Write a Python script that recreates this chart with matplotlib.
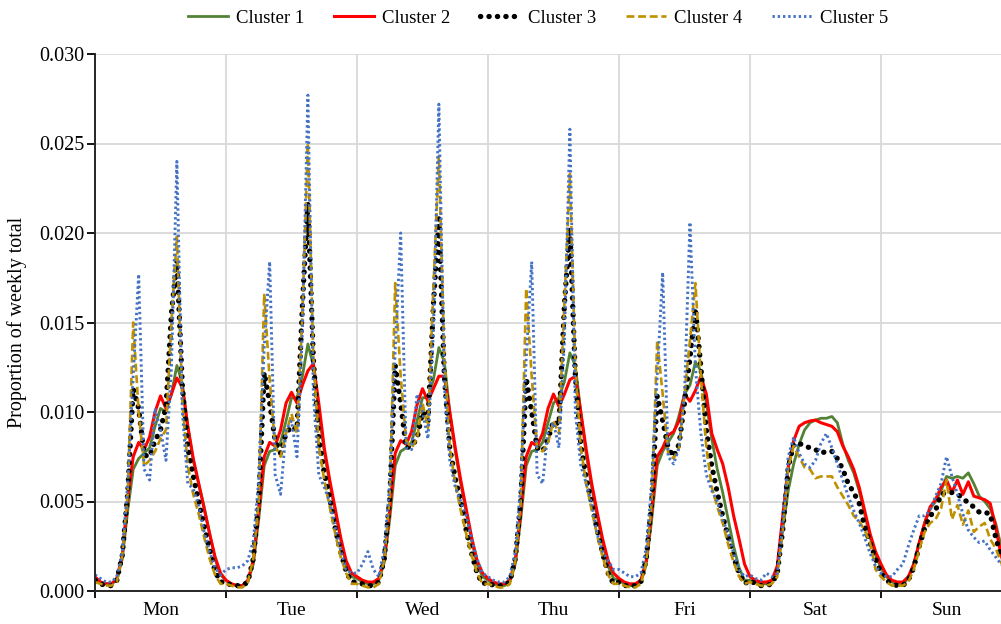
import matplotlib
matplotlib.use("Agg")
import matplotlib.pyplot as plt
import numpy as np

# hourly profiles, values in units of 1/1000 of the weekly total
days = ["Mon", "Tue", "Wed", "Thu", "Fri", "Sat", "Sun"]
labels = ["Cluster 1", "Cluster 2", "Cluster 3", "Cluster 4", "Cluster 5"]

cluster1 = [
    0.7, 0.5, 0.4, 0.4, 0.6, 1.8, 4.5, 6.8, 7.4, 7.7, 8.0, 9.2, 10.2, 10.0, 11.0, 12.6, 11.6, 9.2, 7.3, 6.0, 4.7, 3.2, 1.8, 0.9,
    0.6, 0.4, 0.3, 0.3, 0.5, 1.5, 4.0, 7.0, 7.8, 7.9, 8.3, 9.5, 10.8, 10.8, 12.0, 13.8, 12.6, 10.0, 7.8, 6.0, 4.5, 2.9, 1.5, 0.8,
    0.7, 0.5, 0.4, 0.4, 0.6, 1.6, 4.0, 7.0, 7.8, 8.0, 8.3, 9.5, 10.8, 10.8, 11.8, 13.6, 12.8, 10.0, 7.8, 6.0, 4.4, 2.8, 1.5, 0.8,
    0.6, 0.4, 0.3, 0.3, 0.5, 1.5, 4.0, 7.0, 7.8, 7.9, 8.3, 9.4, 10.5, 10.8, 11.7, 13.3, 12.6, 10.0, 7.6, 5.8, 4.2, 2.7, 1.4, 0.7,
    0.6, 0.4, 0.3, 0.3, 0.5, 1.5, 4.0, 7.0, 7.8, 8.3, 8.8, 9.8, 11.0, 11.5, 12.8, 12.3, 10.5, 8.5, 6.8, 5.5, 4.0, 2.5, 1.3, 0.6,
    0.6, 0.5, 0.4, 0.4, 0.6, 1.2, 3.4, 5.6, 7.1, 8.2, 9.0, 9.4, 9.55, 9.65, 9.65, 9.75, 9.4, 8.2, 7.3, 6.6, 5.6, 4.3, 3.0, 2.0,
    1.3, 0.8, 0.5, 0.4, 0.4, 0.7, 1.5, 2.7, 3.8, 4.6, 5.0, 5.6, 6.4, 6.3, 6.4, 6.3, 6.6, 6.0, 5.3, 5.0, 4.6, 3.8, 2.5, 1.4,
]
cluster2 = [
    0.8, 0.5, 0.4, 0.4, 0.7, 2.0, 5.2, 7.5, 8.3, 7.9, 8.6, 10.0, 10.9, 10.2, 11.0, 11.9, 11.4, 9.2, 7.4, 6.0, 4.6, 3.2, 1.9, 1.0,
    0.6, 0.4, 0.3, 0.3, 0.6, 1.7, 4.5, 7.5, 8.3, 8.1, 9.0, 10.5, 11.1, 10.5, 11.5, 12.3, 12.7, 10.5, 8.0, 6.2, 4.6, 3.0, 1.7, 1.0,
    0.8, 0.6, 0.5, 0.5, 0.7, 1.8, 4.5, 7.7, 8.4, 8.2, 8.9, 10.4, 11.3, 10.6, 11.3, 12.0, 12.0, 10.0, 8.0, 6.2, 4.6, 3.0, 1.7, 1.0,
    0.7, 0.5, 0.4, 0.4, 0.6, 1.7, 4.5, 7.5, 8.3, 8.1, 8.8, 10.2, 11.0, 10.3, 11.0, 11.8, 12.0, 10.0, 7.9, 6.0, 4.4, 2.9, 1.7, 1.0,
    0.7, 0.5, 0.4, 0.4, 0.6, 1.7, 4.5, 7.5, 8.0, 8.7, 8.9, 9.5, 11.0, 10.6, 11.2, 12.0, 11.0, 8.8, 7.9, 7.1, 5.8, 4.2, 2.9, 1.5,
    0.8, 0.6, 0.5, 0.5, 0.6, 1.4, 4.2, 6.9, 8.4, 9.2, 9.4, 9.5, 9.55, 9.4, 9.3, 9.2, 8.9, 8.1, 7.5, 6.8, 5.8, 4.5, 3.2, 2.2,
    1.5, 0.9, 0.6, 0.5, 0.5, 0.8, 1.5, 2.7, 3.8, 4.7, 5.1, 5.8, 6.2, 5.5, 6.2, 5.4, 6.1, 5.3, 5.2, 5.1, 4.9, 3.6, 2.0, 1.0,
]
cluster3 = [
    0.6, 0.4, 0.3, 0.3, 0.6, 2.0, 5.5, 11.3, 10.2, 7.6, 7.5, 8.4, 9.0, 10.3, 15.5, 18.5, 11.5, 8.0, 6.4, 5.0, 3.6, 2.3, 1.1, 0.5,
    0.5, 0.3, 0.3, 0.3, 0.5, 1.8, 5.0, 12.2, 10.5, 8.4, 7.7, 8.8, 9.2, 9.0, 16.0, 21.7, 13.0, 8.5, 6.6, 5.2, 3.5, 2.2, 1.1, 0.5,
    0.5, 0.4, 0.3, 0.3, 0.5, 1.8, 5.2, 12.6, 10.5, 8.0, 8.1, 8.5, 10.0, 9.5, 16.0, 20.8, 12.0, 8.0, 6.3, 5.0, 3.4, 2.1, 1.0, 0.4,
    0.5, 0.3, 0.3, 0.3, 0.5, 1.8, 5.0, 11.9, 10.0, 8.0, 7.8, 8.5, 9.5, 9.3, 16.0, 20.3, 12.0, 8.2, 6.3, 4.9, 3.4, 2.1, 1.0, 0.4,
    0.5, 0.3, 0.3, 0.3, 0.5, 1.8, 5.0, 10.9, 9.5, 8.0, 7.5, 8.2, 10.5, 13.0, 15.8, 12.5, 9.0, 7.0, 5.5, 4.2, 3.0, 1.9, 1.0, 0.4,
    0.6, 0.4, 0.3, 0.3, 0.4, 1.0, 3.4, 6.9, 8.2, 8.25, 8.1, 8.0, 7.9, 7.7, 7.8, 7.8, 7.4, 6.8, 6.0, 5.5, 4.9, 3.6, 2.7, 1.8,
    1.0, 0.6, 0.4, 0.3, 0.3, 0.6, 1.3, 2.5, 3.5, 4.2, 4.5, 5.4, 5.5, 5.5, 5.4, 5.2, 4.9, 4.7, 4.4, 4.4, 4.3, 3.0, 1.9, 1.0,
]
cluster4 = [
    0.5, 0.4, 0.3, 0.3, 0.5, 2.0, 5.5, 15.0, 10.0, 7.0, 7.3, 7.8, 8.5, 9.0, 15.0, 19.8, 10.5, 7.0, 5.4, 4.3, 3.0, 1.8, 0.9, 0.4,
    0.4, 0.3, 0.2, 0.2, 0.5, 1.8, 5.0, 16.6, 11.8, 8.1, 7.5, 8.8, 9.9, 8.8, 15.5, 25.0, 13.1, 8.1, 6.2, 4.7, 3.2, 1.9, 1.0, 0.4,
    0.4, 0.3, 0.2, 0.2, 0.4, 1.8, 5.2, 17.2, 12.0, 8.4, 8.0, 8.5, 10.5, 9.1, 17.0, 24.3, 13.0, 8.0, 6.0, 4.5, 3.2, 2.0, 1.0, 0.4,
    0.4, 0.3, 0.2, 0.2, 0.4, 1.7, 5.0, 16.9, 12.0, 8.0, 7.8, 8.3, 9.5, 8.8, 16.0, 23.3, 12.5, 8.0, 6.0, 4.5, 3.1, 1.9, 0.9, 0.4,
    0.4, 0.3, 0.2, 0.2, 0.4, 1.6, 5.0, 14.0, 11.0, 7.7, 7.4, 8.0, 11.0, 14.0, 17.2, 12.0, 8.0, 5.8, 4.7, 3.8, 2.6, 1.6, 0.8, 0.4,
    0.5, 0.4, 0.3, 0.3, 0.4, 0.8, 3.4, 6.9, 8.1, 7.5, 6.9, 6.8, 6.3, 6.4, 6.4, 6.4, 5.8, 5.3, 4.8, 4.2, 3.9, 3.4, 2.7, 1.2,
    0.8, 0.5, 0.3, 0.3, 0.3, 0.5, 1.2, 2.3, 3.3, 3.8, 4.0, 4.6, 6.2, 4.0, 4.8, 3.7, 4.5, 3.3, 3.6, 3.8, 2.9, 2.4, 1.6, 0.9,
]
cluster5 = [
    0.9, 0.7, 0.5, 0.5, 0.8, 2.2, 6.0, 12.0, 17.7, 6.8, 6.2, 10.2, 9.0, 7.3, 12.5, 24.0, 10.0, 6.0, 5.7, 4.8, 3.3, 2.2, 1.3, 0.9,
    1.2, 1.3, 1.3, 1.4, 1.7, 2.8, 6.2, 13.6, 18.4, 6.5, 5.4, 9.0, 9.5, 7.5, 14.5, 27.7, 11.0, 6.5, 5.8, 5.0, 3.6, 2.3, 1.2, 1.0,
    1.0, 1.5, 2.2, 1.2, 0.8, 2.4, 6.0, 13.5, 20.0, 8.0, 7.9, 11.0, 10.0, 8.5, 14.5, 27.2, 11.5, 7.3, 5.8, 5.0, 4.2, 2.9, 1.8, 1.0,
    0.8, 0.6, 0.5, 0.5, 0.8, 2.2, 6.0, 13.0, 18.4, 6.5, 6.0, 9.0, 9.4, 8.0, 14.0, 25.8, 10.0, 7.0, 6.0, 4.9, 3.2, 2.2, 1.7, 1.2,
    1.2, 1.0, 0.8, 0.8, 1.0, 2.4, 6.0, 12.0, 17.8, 7.5, 7.1, 8.0, 11.0, 20.6, 12.5, 8.8, 6.5, 5.6, 5.0, 4.0, 3.2, 2.1, 1.2, 0.8,
    0.9, 0.7, 0.6, 1.0, 0.8, 1.0, 3.8, 7.5, 8.6, 7.7, 7.1, 6.9, 7.3, 8.25, 8.8, 8.0, 7.1, 6.2, 5.3, 4.5, 3.8, 3.0, 2.1, 1.4,
    1.0, 0.8, 0.8, 1.2, 1.5, 2.5, 3.4, 4.2, 4.2, 4.5, 5.3, 6.0, 7.5, 6.4, 5.4, 4.3, 3.4, 3.0, 2.7, 2.8, 2.3, 1.9, 1.5, 1.2,
]

series = [cluster1, cluster2, cluster3, cluster4, cluster5]
colors = ["#548235", "#ff0000", "#000000", "#bf9000", "#4472c4"]
styles = [
    dict(lw=2.0, ls="-"),
    dict(lw=2.2, ls="-"),
    dict(lw=3.8, ls=(0, (0.05, 1.55)), dash_capstyle="round"),
    dict(lw=1.9, ls=(0, (3.0, 1.4))),
    dict(lw=2.1, ls=(0, (0.8, 1.0))),
]

plt.rcParams["font.family"] = ["Liberation Serif", "DejaVu Serif"]

fig = plt.figure(figsize=(10.01, 6.24), dpi=100)
ax = fig.add_axes([95 / 1001, 1 - 591 / 624, 917 / 1001, 537 / 624])

hours = np.arange(len(cluster1))
for vals, c, st, lab in zip(series, colors, styles, labels):
    ax.plot(hours, np.array(vals) / 1000, color=c, label=lab, **st)

ax.set_xlim(0, 168)
ax.set_ylim(0, 0.030)
ax.set_yticks(np.arange(0, 0.0301, 0.005))
ax.yaxis.set_major_formatter(matplotlib.ticker.FormatStrFormatter("%.3f"))
ax.set_xticks(np.arange(0, 169, 24))
ax.set_xticklabels([])
ax.set_xticks(np.arange(12, 168, 24), minor=True)
ax.set_xticklabels(days, minor=True)
ax.tick_params(axis="x", which="minor", length=0, pad=8, labelsize=14)
ax.tick_params(axis="x", which="major", length=5, width=1.3, direction="out")
ax.tick_params(axis="y", length=5.5, width=1.3, labelsize=14.5, pad=2)
ax.grid(True, which="major", color="#d9d9d9", lw=1.3)
ax.set_axisbelow(True)
for s in ["top", "right"]:
    ax.spines[s].set_visible(False)
for s in ["left", "bottom"]:
    ax.spines[s].set_linewidth(1.4)
    ax.spines[s].set_color("#262626")
ax.set_ylabel("Proportion of weekly total", fontsize=14.5, labelpad=9)

fig.legend(loc="center", bbox_to_anchor=(538 / 1001, 1 - 18 / 624), ncol=5,
           frameon=False, fontsize=13.5, handlelength=2.15, handletextpad=0.4,
           columnspacing=1.6)

fig.savefig("out.png", dpi=100)
